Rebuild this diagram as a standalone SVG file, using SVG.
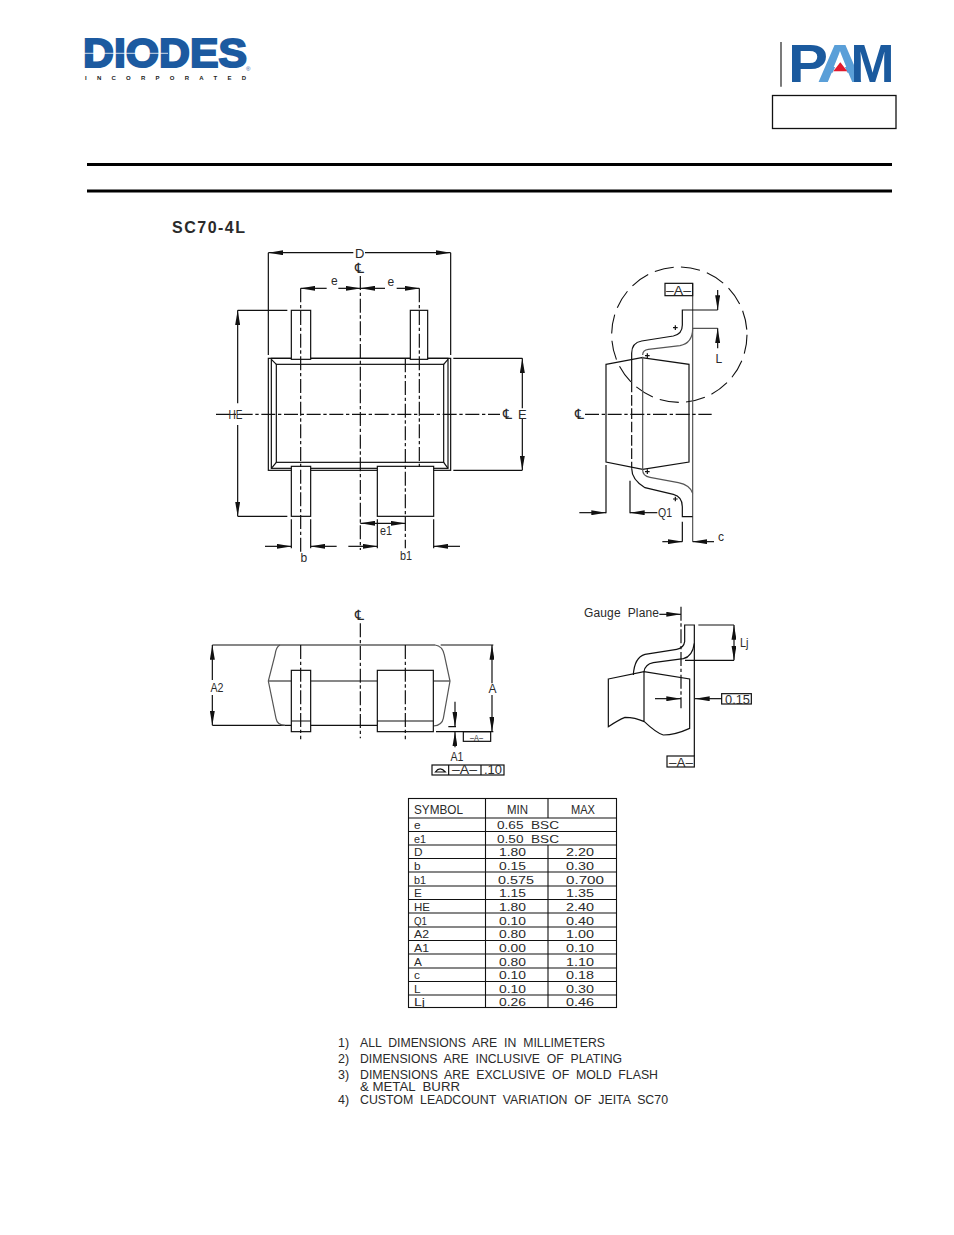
<svg xmlns="http://www.w3.org/2000/svg" width="954" height="1235" viewBox="0 0 954 1235">
<style>
text{font-family:"Liberation Sans",Arial,sans-serif;fill:#2a2a2a;stroke:none;white-space:pre}
.s{fill:none;stroke:#111;stroke-width:3.6}
.w{fill:#fff;stroke:#111;stroke-width:3.6}
.cl{fill:none;stroke:#111;stroke-width:3.6;stroke-dasharray:42 8 10 8}
.d{fill:none;stroke:#111;stroke-width:3.6;marker-end:url(#ah)}
.ds{fill:none;stroke:#111;stroke-width:3.6;marker-start:url(#ah)}
.db{fill:none;stroke:#111;stroke-width:3.6;marker-start:url(#ah);marker-end:url(#ah)}
.g{fill:none;stroke:#555;stroke-width:3.6}
.tl{fill:none;stroke:#111;stroke-width:1.1}
.f12{font-size:13px}.f11{font-size:12px}.f9{font-size:9.500px}
.c{font-family:"DejaVu Sans",sans-serif;font-size:14px}
.tb{font-size:11.800px}
.n{font-size:12.500px}
</style>
<defs>
<marker id="ah" viewBox="0 0 44 15" refX="44" refY="7.500" markerWidth="44" markerHeight="15" markerUnits="userSpaceOnUse" orient="auto-start-reverse"><path d="M0,0 L44,7.500 L0,15 Z" fill="#111"/></marker>
</defs>
<rect width="954" height="1235" fill="#fff"/>

<g id="logo-diodes">
<text x="83" y="66.500" font-size="40" font-weight="700" textLength="164" lengthAdjust="spacingAndGlyphs" style="fill:#1c5aa0;stroke:#1c5aa0;stroke-width:2px">DIODES</text>
<path d="M84,53.300 H168" stroke="#fff" stroke-width=".8" fill="none"/>
<text x="246" y="71" font-size="6" style="fill:#1c5aa0">®</text>
<text x="85" y="79.600" font-size="6" font-weight="700" textLength="161" lengthAdjust="spacing" style="fill:#222">INCORPORATED</text>
</g>

<g id="logo-pam">
<path d="M781,42 V86.700" stroke="#222" stroke-width="1.200" fill="none"/>
<text x="788" y="81.700" font-size="54.500" font-weight="700" textLength="40" lengthAdjust="spacingAndGlyphs" style="fill:#1b5a9e">P</text>
<text x="817" y="81.700" font-size="54.500" font-weight="700" textLength="46" lengthAdjust="spacingAndGlyphs" style="fill:#5a9fd8">A</text>
<path d="M840,56 L828.500,82 H851.500 Z" fill="#fff"/>
<path d="M840.300,62.300 L833.300,71.300 H847.300 Z" fill="#e2192c"/>
<text x="850.500" y="81.700" font-size="54.500" font-weight="700" textLength="44" lengthAdjust="spacingAndGlyphs" style="fill:#1b5a9e">M</text>
<rect x="772.500" y="95.500" width="123.500" height="33" fill="#fff" stroke="#111" stroke-width="1.300"/>
</g>

<g id="header-rules">
<path d="M87,164.500 H892 M87,191 H892" stroke="#000" stroke-width="3" fill="none"/>
</g>
<text x="172" y="233" font-size="16" font-weight="700" letter-spacing="1.500">SC70-4L</text>

<g id="top-view">
<g transform="translate(205,240) scale(.33333)">
<rect class="s" x="190" y="355" width="547" height="336"/>
<rect class="s" x="199" y="355" width="530" height="330"/>
<rect class="s" x="214" y="373" width="502" height="294"/>
<path class="s" d="M199,358 L214,373 M729,358 L716,373 M199,685 L214,667 M729,685 L716,667"/>
<rect class="w" x="259" y="211" width="58" height="147"/>
<rect class="w" x="616" y="211" width="52" height="147"/>
<rect class="w" x="259" y="679" width="58" height="150"/>
<rect class="w" x="517" y="679" width="169" height="150"/>
<path class="cl" d="M466,108 V930 M287,145 V935 M601,355 V925 M643,145 V680 M33,523 H885"/>
<path class="s" d="M190,38 V345 M737,38 V345 M98,211 H247 M98,829 H247 M745,355 H952 M745,691 H952 M259,838 V925 M317,838 V925 M517,838 V925 M686,838 V925"/>
<path class="ds" d="M190,38 H445"/><path class="d" d="M480,38 H737"/>
<path class="ds" d="M287,145 H365"/><path class="d" d="M400,145 H466"/>
<path class="ds" d="M466,145 H540"/><path class="d" d="M575,145 H643"/>
<path class="ds" d="M98,211 V490"/><path class="d" d="M98,555 V829"/>
<path class="ds" d="M952,355 V505"/><path class="d" d="M952,535 V691"/>
<path class="db" d="M466,850 H601"/>
<path class="d" d="M180,919 H259"/><path class="d" d="M395,919 H317"/><path class="d" d="M430,919 H517"/><path class="d" d="M765,919 H686"/>
</g>
<text class="f12" x="355" y="258">D</text>
<text class="c" x="355" y="273">℄</text>
<text class="f11" x="331" y="285">e</text><text class="f11" x="387.500" y="286">e</text>
<text class="f12" x="228.500" y="418.500" textLength="14" lengthAdjust="spacingAndGlyphs">HE</text>
<text class="c" x="503" y="419">℄</text>
<text class="f12" x="518" y="418.500">E</text>
<text class="f11" x="380" y="535" textLength="12" lengthAdjust="spacingAndGlyphs">e1</text>
<text class="f11" x="300.500" y="562">b</text>
<text class="f11" x="400" y="559.500" textLength="12" lengthAdjust="spacingAndGlyphs">b1</text>
</g>

<g id="side-view">
<g transform="translate(570,260) scale(.33333)">
<circle cx="328" cy="224" r="203" fill="none" stroke="#111" stroke-width="3.300" stroke-dasharray="58 22"/>
<path class="s" d="M108,313 L215,293 L357,313 V606 L218,628 L108,606 Z"/>
<path class="g" d="M218,290 V630 M368,70 V845"/>
<rect class="s" x="285" y="70" width="83" height="37"/>
<path class="s" d="M443,150 H337 V195 Q337,222 310,228 L215,243 Q185,248 185,280 V365"/>
<path class="s" stroke-dasharray="32 8" d="M185,365 V625"/>
<path class="s" d="M185,625 Q185,660 225,683 L310,703 Q337,710 337,740 V770 H368"/>
<path class="g" d="M443,205 H368 Q368,250 330,257 L235,268 Q218,270 218,285 M218,630 Q218,648 240,652 L325,668 Q360,675 368,700"/>
<path class="s" d="M309,203 H323 M316,196 V210 M225,287 H239 M232,280 V294 M225,635 H239 M232,628 V642 M309,717 H323 M316,710 V724"/>
<path class="cl" d="M45,463 H425"/>
<path class="s" d="M108,615 V760 M180,662 V760 M337,785 V845"/>
<path class="d" d="M443,90 V150"/><path class="d" d="M443,265 V205"/>
<path class="d" d="M28,758 H108"/><path class="d" d="M262,758 H180"/>
<path class="d" d="M277,845 H337"/><path class="d" d="M432,845 H368"/>
</g>
<text class="f12" x="666" y="294.500" textLength="25" lengthAdjust="spacingAndGlyphs">–A–</text>
<text class="f11" x="715.500" y="363">L</text>
<text class="f11" x="658" y="517" textLength="14" lengthAdjust="spacingAndGlyphs">Q1</text>
<text class="f11" x="718" y="541">c</text>
<text class="c" x="575" y="419">℄</text>
</g>

<g id="front-view">
<g transform="translate(200,600) scale(.33333)">
<path class="s" d="M37,135 H705 M722,135 H880 M37,376 H275 M708,395 H880 M205,243 H750 M332,376 H532"/>
<path class="g" d="M240,135 Q228,140 225,165 L205,243 L228,355 Q232,376 255,376 M705,135 Q728,138 733,165 L750,243 L730,355 Q726,376 700,378"/>
<rect class="w" x="274" y="211" width="58" height="184"/>
<rect class="w" x="532" y="211" width="168" height="184"/>
<path class="s" d="M274,363 H332 M532,363 H700 M745,380 H768"/>
<path class="cl" d="M302,135 V418 M616,135 V418 M481,70 V415"/>
<rect class="s" x="790" y="395" width="82" height="29"/>
<rect class="s" x="696" y="495" width="216" height="30"/>
<path class="s" d="M746,495 V525 M843,495 V525"/>
<path class="s" d="M706,516 Q720,497 736,516 Z"/>
<path class="ds" d="M37,135 V240"/><path class="d" d="M37,285 V376"/>
<path class="ds" d="M876,135 V250"/><path class="d" d="M876,285 V395"/>
<path class="d" d="M765,305 V380"/><path class="d" d="M765,442 V395"/>
</g>
<text class="c" x="355" y="620">℄</text>
<text class="f12" x="210.500" y="691.500" textLength="13" lengthAdjust="spacingAndGlyphs">A2</text>
<text class="f11" x="488.500" y="692.500">A</text>
<text class="f9" x="470" y="740.500" textLength="13" lengthAdjust="spacingAndGlyphs">–A–</text>
<text class="f11" x="450.500" y="760.500" textLength="13" lengthAdjust="spacingAndGlyphs">A1</text>
<text class="f12" x="452" y="774" textLength="25" lengthAdjust="spacingAndGlyphs">–A–</text>
<text class="f12" x="484" y="774" textLength="18" lengthAdjust="spacingAndGlyphs">.10</text>
</g>

<g id="gauge-view">
<g transform="translate(575,600) scale(.33333)">
<path class="cl" d="M318,20 V325"/>
<path class="s" d="M329,125 V75 H358 V130 Q352,170 325,176 L235,188 Q210,193 207,215 M329,125 Q326,145 305,148 L210,163 Q178,172 175,225"/>
<path class="s" d="M100,237 L207,215 L344,237 V385 Q300,405 265,405 Q245,400 208,365 Q180,352 150,352 Q130,360 100,380 Z M207,215 V365"/>
<path class="s" d="M358,130 V468 M370,75 H477 M330,181 H477"/>
<rect class="s" x="276" y="468" width="82" height="33"/>
<rect class="s" x="440" y="281" width="89" height="31"/>
<path class="db" d="M477,75 V181"/>
<path class="d" d="M253,43 H318"/>
<path class="d" d="M240,296 H318"/>
<path class="d" d="M440,296 H360"/>
</g>
<text class="f11" x="584" y="617" textLength="75" lengthAdjust="spacing">Gauge  Plane</text>
<text class="f12" x="740" y="647" textLength="8.500" lengthAdjust="spacingAndGlyphs">Lj</text>
<text class="f12" x="725" y="703.500" textLength="25" lengthAdjust="spacingAndGlyphs">0.15</text>
<text class="f12" x="669" y="766.500" textLength="24" lengthAdjust="spacingAndGlyphs">–A–</text>
</g>

<g id="dimension-table">
<rect class="tl" x="408.500" y="798.500" width="208" height="209"/>
<path class="tl" d="M485.500,798 V1007 M548,798 V818 M548,845 V1007 M408,818 H617 M408,831.500 H617 M408,845 H617 M408,858.500 H617 M408,872 H617 M408,886 H617 M408,899.500 H617 M408,913 H617 M408,927 H617 M408,940.500 H617 M408,954 H617 M408,968 H617 M408,981.500 H617 M408,995 H617"/>
<g class="tb">
<text x="414" y="814" style="font-size:13.500px" textLength="49" lengthAdjust="spacingAndGlyphs">SYMBOL</text>
<text x="507" y="814" style="font-size:13.500px" textLength="21" lengthAdjust="spacingAndGlyphs">MIN</text>
<text x="571" y="814" style="font-size:13.500px" textLength="24" lengthAdjust="spacingAndGlyphs">MAX</text>
<text x="414" y="829">e</text><text x="497" y="829" textLength="62" lengthAdjust="spacingAndGlyphs">0.65  BSC</text>
<text x="414" y="842.500" textLength="12" lengthAdjust="spacingAndGlyphs">e1</text><text x="497" y="842.500" textLength="62" lengthAdjust="spacingAndGlyphs">0.50  BSC</text>
<text x="414" y="856">D</text><text x="499" y="856" textLength="27" lengthAdjust="spacingAndGlyphs">1.80</text><text x="566" y="856" textLength="28" lengthAdjust="spacingAndGlyphs">2.20</text>
<text x="414" y="869.500">b</text><text x="499" y="869.500" textLength="27" lengthAdjust="spacingAndGlyphs">0.15</text><text x="566" y="869.500" textLength="28" lengthAdjust="spacingAndGlyphs">0.30</text>
<text x="414" y="883.500" textLength="12" lengthAdjust="spacingAndGlyphs">b1</text><text x="498" y="883.500" textLength="36" lengthAdjust="spacingAndGlyphs">0.575</text><text x="566" y="883.500" textLength="38" lengthAdjust="spacingAndGlyphs">0.700</text>
<text x="414" y="897">E</text><text x="499" y="897" textLength="27" lengthAdjust="spacingAndGlyphs">1.15</text><text x="566" y="897" textLength="28" lengthAdjust="spacingAndGlyphs">1.35</text>
<text x="414" y="910.500" textLength="16" lengthAdjust="spacingAndGlyphs">HE</text><text x="499" y="910.500" textLength="27" lengthAdjust="spacingAndGlyphs">1.80</text><text x="566" y="910.500" textLength="28" lengthAdjust="spacingAndGlyphs">2.40</text>
<text x="414" y="924.500" textLength="13" lengthAdjust="spacingAndGlyphs">Q1</text><text x="499" y="924.500" textLength="27" lengthAdjust="spacingAndGlyphs">0.10</text><text x="566" y="924.500" textLength="28" lengthAdjust="spacingAndGlyphs">0.40</text>
<text x="414" y="938" textLength="15" lengthAdjust="spacingAndGlyphs">A2</text><text x="499" y="938" textLength="27" lengthAdjust="spacingAndGlyphs">0.80</text><text x="566" y="938" textLength="28" lengthAdjust="spacingAndGlyphs">1.00</text>
<text x="414" y="951.500" textLength="15" lengthAdjust="spacingAndGlyphs">A1</text><text x="499" y="951.500" textLength="27" lengthAdjust="spacingAndGlyphs">0.00</text><text x="566" y="951.500" textLength="28" lengthAdjust="spacingAndGlyphs">0.10</text>
<text x="414" y="965.500">A</text><text x="499" y="965.500" textLength="27" lengthAdjust="spacingAndGlyphs">0.80</text><text x="566" y="965.500" textLength="28" lengthAdjust="spacingAndGlyphs">1.10</text>
<text x="414" y="979">c</text><text x="499" y="979" textLength="27" lengthAdjust="spacingAndGlyphs">0.10</text><text x="566" y="979" textLength="28" lengthAdjust="spacingAndGlyphs">0.18</text>
<text x="414" y="992.500">L</text><text x="499" y="992.500" textLength="27" lengthAdjust="spacingAndGlyphs">0.10</text><text x="566" y="992.500" textLength="28" lengthAdjust="spacingAndGlyphs">0.30</text>
<text x="414" y="1005.500" textLength="11" lengthAdjust="spacingAndGlyphs">Lj</text><text x="499" y="1005.500" textLength="27" lengthAdjust="spacingAndGlyphs">0.26</text><text x="566" y="1005.500" textLength="28" lengthAdjust="spacingAndGlyphs">0.46</text>
</g>
</g>

<g id="notes" class="n">
<text x="338" y="1047">1)</text><text x="360" y="1047" textLength="245" lengthAdjust="spacingAndGlyphs">ALL  DIMENSIONS  ARE  IN  MILLIMETERS</text>
<text x="338" y="1063">2)</text><text x="360" y="1063" textLength="262" lengthAdjust="spacingAndGlyphs">DIMENSIONS  ARE  INCLUSIVE  OF  PLATING</text>
<text x="338" y="1078.500">3)</text><text x="360" y="1078.500" textLength="298" lengthAdjust="spacingAndGlyphs">DIMENSIONS  ARE  EXCLUSIVE  OF  MOLD  FLASH</text>
<text x="360" y="1091" textLength="100" lengthAdjust="spacingAndGlyphs">&amp; METAL  BURR</text>
<text x="338" y="1103.500">4)</text><text x="360" y="1103.500" textLength="308" lengthAdjust="spacingAndGlyphs">CUSTOM  LEADCOUNT  VARIATION  OF  JEITA  SC70</text>
</g>
</svg>
